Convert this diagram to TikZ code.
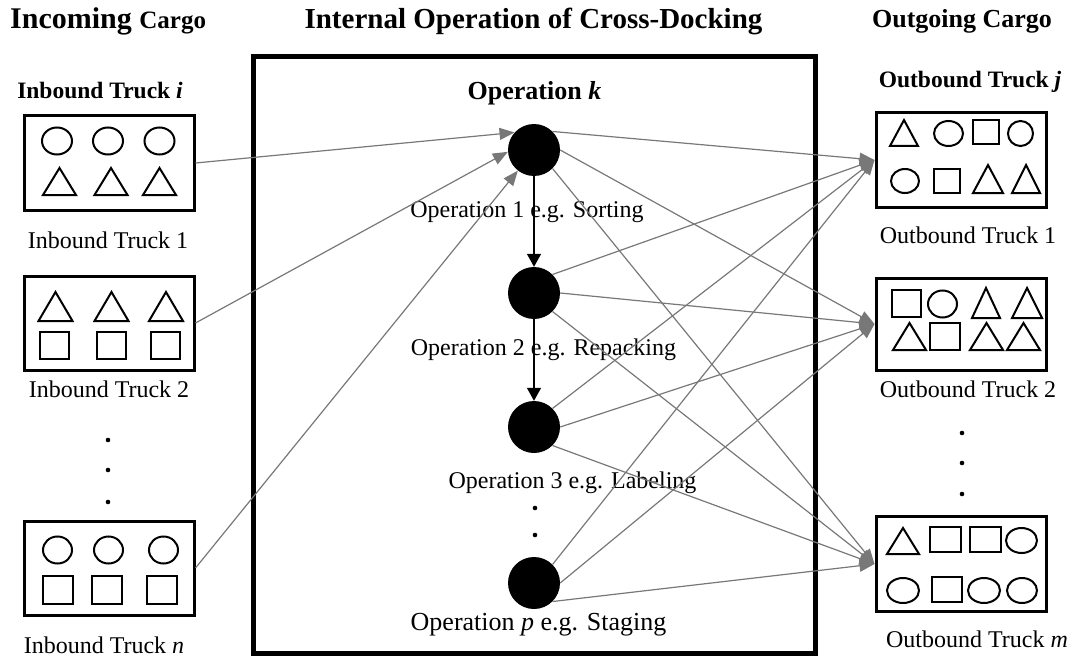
\documentclass[tikz,border=0pt]{standalone}
\usepackage{fontspec}
\setmainfont{Liberation Serif}
\usetikzlibrary{arrows.meta}
\definecolor{lnk}{RGB}{120,120,120}
\newcommand\mytri[4]{\draw[shp] (#1-#3,#4) -- (#1,#2) -- (#1+#3,#4) -- cycle;}
\newcommand\myell[4]{\draw[shp] (#1,#2) ellipse [x radius=#3pt, y radius=#4pt];}
\newcommand\mysq[4]{\draw[shp] (#1,#2) rectangle (#3,#4);}
\tikzset{
  shp/.style={line width=2pt, line join=miter},
  truck/.style={draw, line width=3pt, minimum width=170pt, minimum height=94pt, inner sep=0pt},
  opnode/.style={circle, fill=black, minimum size=52pt, inner sep=0pt},
  glink/.style={draw=lnk, line width=1.2pt, -{Triangle[length=15pt,width=12pt]}},
  blink/.style={draw=black, line width=1.5pt, -{Triangle[length=13pt,width=14pt]}},
  lbl/.style={anchor=base, inner sep=0pt, font=\fontsize{24}{28}\selectfont},
  sub/.style={anchor=base, inner sep=0pt, font=\fontsize{23.5}{28}\selectfont\bfseries},
  dotm/.style={fill=black},
}
\begin{document}
\begin{tikzpicture}[x=1pt,y=-1pt]
\useasboundingbox (0,0) rectangle (1071,658);
% big box
\draw[line width=5pt] (253,57) rectangle (815,653);
% titles
\node[anchor=base west, inner sep=0pt] (tin) at (10,29) {\bfseries\fontsize{30}{34}\selectfont Incoming \fontsize{25}{30}\selectfont Cargo};
\node[anchor=base, inner sep=0pt, font=\fontsize{29}{34}\selectfont\bfseries] (tmid) at (533.5,29) {Internal Operation of Cross-Docking};
\node[anchor=base, inner sep=0pt, font=\fontsize{26}{30}\selectfont\bfseries] (tout) at (962,28) {Outgoing Cargo};
\node[sub] (hin) at (100,99) {Inbound Truck \textit{i}};
\node[sub] (hout) at (970,88) {Outbound Truck \textit{j}};
\node[anchor=base, inner sep=0pt, font=\fontsize{26}{30}\selectfont\bfseries] (hop) at (534.5,100) {Operation \textit{k}};
% inbound trucks
\node[truck] (in1) at (109,163) {};
\node[truck] (in2) at (109,323) {};
\node[truck] (inn) at (109,568) {};
\myell{57}{141}{15}{13.5}\myell{108}{141}{15}{13.5}\myell{159.5}{141}{15}{13.5}
\mytri{59.5}{168}{16.5}{195}\mytri{111}{168}{16.5}{195}\mytri{159.5}{168}{16.5}{195}
\mytri{55.5}{292}{17}{321}\mytri{111.5}{292}{17}{321}\mytri{166}{292}{17}{321}
\mysq{39.5}{332}{68.5}{359}\mysq{96.5}{332}{125.5}{359}\mysq{151}{332}{180}{359}
\myell{57.5}{550}{14.5}{13.5}\myell{108.5}{550}{14.5}{13.5}\myell{163.5}{550}{14.5}{13.5}
\mysq{43}{576}{73}{604}\mysq{92}{576}{122}{604}\mysq{146.5}{576}{176.5}{604}
\node[lbl] (l1) at (108,248) {Inbound Truck 1};
\node[lbl] (l2) at (109,397) {Inbound Truck 2};
\node[lbl] (ln) at (104,653) {Inbound Truck \textit{n}};
\fill[dotm] (108,440) circle [radius=2.3pt];
\fill[dotm] (108,470) circle [radius=2.3pt];
\fill[dotm] (108,502) circle [radius=2.3pt];
% outbound trucks
\node[truck, minimum height=95pt] (out1) at (961,160) {};
\node[truck, minimum height=92pt] (out2) at (961,324) {};
\node[truck, minimum height=95pt] (outm) at (961,564) {};
\mytri{904}{120}{14}{146}\myell{948.5}{133.5}{14.5}{12.5}\mysq{973}{120}{999}{144}\myell{1020.5}{133.5}{12.5}{12.5}
\myell{905}{181}{14}{12}\mysq{934}{169}{960}{193}\mytri{988}{165}{15}{193}\mytri{1026}{165}{14}{193}
\mysq{892}{290}{921}{317}\myell{942.5}{304}{14.5}{13.5}\mytri{986}{288}{14}{318}\mytri{1027}{288}{15}{318}
\mytri{909.5}{323}{16.5}{350}\mysq{930}{323}{960}{350}\mytri{986.5}{323}{16.5}{350}\mytri{1023.5}{323}{16.5}{350}
\mytri{903}{528}{16}{554}\mysq{930}{527}{961}{552}\mysq{970}{527}{1001}{552}\myell{1021.5}{540.5}{15.5}{12.5}
\myell{903}{590.5}{16}{12.5}\mysq{932}{577}{962}{602}\myell{984}{590.5}{16}{12.5}\myell{1022}{590.5}{15}{12.5}
\node[lbl] (r1) at (968,243) {Outbound Truck 1};
\node[lbl] (r2) at (968,397) {Outbound Truck 2};
\node[lbl] (rm) at (977,647) {Outbound Truck \textit{m}};
\fill[dotm] (962,433) circle [radius=2.3pt];
\fill[dotm] (962,463) circle [radius=2.3pt];
\fill[dotm] (962,494) circle [radius=2.3pt];
% operations
\node[opnode] (op1) at (534,150) {};
\node[opnode] (op2) at (534,293) {};
\node[opnode] (op3) at (534,427) {};
\node[opnode] (op4) at (534,583) {};
\node[lbl] (o1) at (527,217) {Operation 1 e.g. Sorting};
\node[lbl] (o2) at (543.5,355) {Operation 2 e.g. Repacking};
\node[lbl] (o3) at (572.5,488) {Operation 3 e.g. Labeling};
\node[lbl, font=\fontsize{26}{30}\selectfont] (o4) at (538.5,630) {Operation \textit{p} e.g. Staging};
\fill[dotm] (535,508) circle [radius=2.3pt];
\fill[dotm] (535,535) circle [radius=2.3pt];
% connectors
\draw[blink] (op1) -- (op2);
\draw[blink] (op2) -- (op3);
\draw[glink] (in1.east) -- (op1.138);
\draw[glink] (in2.east) -- (op1.184);
\draw[glink] (inn.east) -- (op1.232);
\foreach \k in {op1,op2,op3,op4}{
  \draw[glink] (\k.45) -- (out1.west);
  \draw[glink] (\k.0) -- (out2.west);
  \draw[glink] (\k.-45) -- (outm.west);
}
\end{tikzpicture}
\end{document}
